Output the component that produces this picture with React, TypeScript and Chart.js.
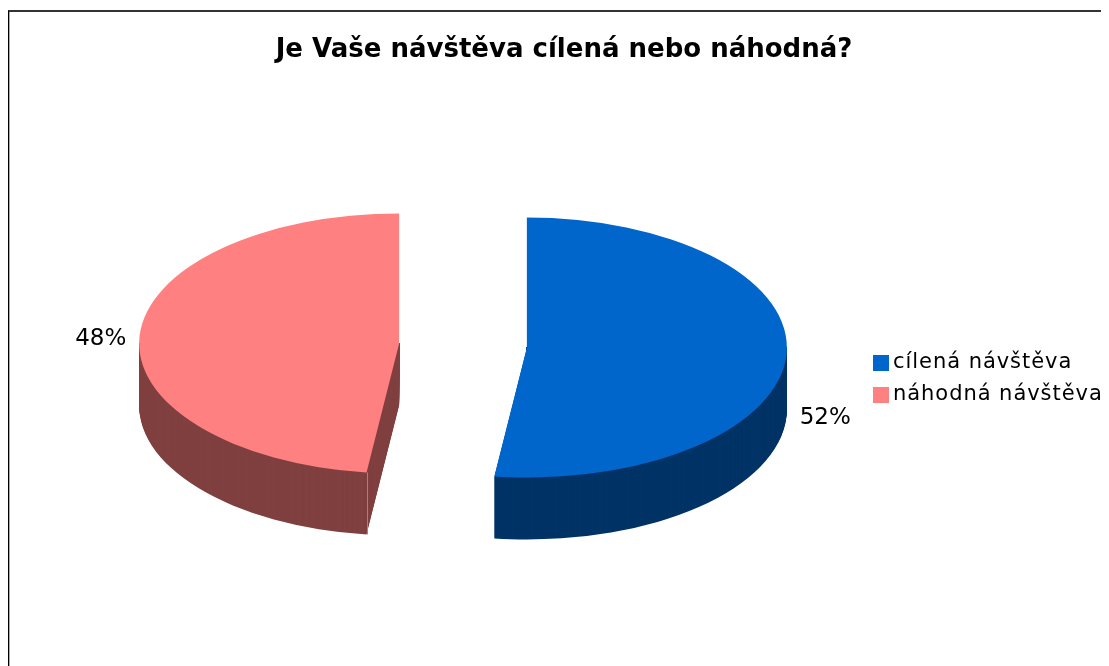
import React, { useEffect, useRef } from "react";
import { Chart, registerables } from "chart.js";

Chart.register(...registerables);

const categories = ["cílená návštěva", "náhodná návštěva"];
const values = [52, 48];
const colors = ["#0066CC", "#FF8080"];
const sideColors = ["#003366", "#804040"];
const titleText = "Je Vaše návštěva cílená nebo náhodná?";

const FONT = "'DejaVu Sans'";
const SQUASH = 0.5;
const DEPTH = 62;
const EXPLODE = 64;
const CENTER_X = 454;
const CENTER_Y = 333.5;
const LABEL_RX = 363;
const LABEL_RY = 270;

const pie3d = {
  id: "pie3d",
  beforeDatasetsDraw(chart: any) {
    const { ctx } = chart;
    const meta = chart.getDatasetMeta(0);
    const place = (arc: any, shift: number) => {
      const mid = (arc.startAngle + arc.endAngle) / 2;
      const ex = Math.cos(mid) * EXPLODE;
      const ey = Math.sin(mid) * EXPLODE * SQUASH;
      ctx.setTransform(1, 0, 0, SQUASH, CENTER_X - arc.x + ex, CENTER_Y + shift + ey - arc.y * SQUASH);
    };
    ctx.save();
    meta.data.forEach((arc: any, i: number) => {
      const real = arc.options;
      const mid = (arc.startAngle + arc.endAngle) / 2;
      const apexY = CENTER_Y + Math.sin(mid) * EXPLODE * SQUASH;
      arc.options = { ...real, backgroundColor: sideColors[i], borderColor: sideColors[i], borderWidth: 0 };
      ctx.save();
      ctx.setTransform(1, 0, 0, 1, 0, 0);
      ctx.beginPath();
      ctx.rect(0, apexY, chart.width, chart.height);
      ctx.clip();
      for (let d = DEPTH; d >= 1; d--) {
        place(arc, d);
        arc.draw(ctx);
      }
      ctx.restore();
      arc.options = real;
    });
    meta.data.forEach((arc: any) => {
      place(arc, 0);
      arc.draw(ctx);
    });
    // pale seam on the near corner of the second slice
    const pink = meta.data[1];
    const mid = (pink.startAngle + pink.endAngle) / 2;
    const sx = Math.round(CENTER_X + Math.cos(mid) * EXPLODE + Math.cos(pink.startAngle) * pink.outerRadius) + 0.5;
    const sy = CENTER_Y + (Math.sin(mid) * EXPLODE + Math.sin(pink.startAngle) * pink.outerRadius) * SQUASH;
    ctx.setTransform(1, 0, 0, 1, 0, 0);
    ctx.strokeStyle = "#A58080";
    ctx.lineWidth = 1;
    ctx.beginPath();
    ctx.moveTo(sx, sy);
    ctx.lineTo(sx, sy + DEPTH);
    ctx.stroke();
    ctx.restore();
  },
  beforeDatasetDraw() {
    return false;
  },
  afterDraw(chart: any) {
    const { ctx } = chart;
    const meta = chart.getDatasetMeta(0);
    ctx.save();
    ctx.fillStyle = "#000";
    ctx.font = `23px ${FONT}`;
    ctx.textAlign = "center";
    ctx.textBaseline = "middle";
    meta.data.forEach((arc: any, i: number) => {
      const mid = (arc.startAngle + arc.endAngle) / 2;
      const dx = Math.cos(mid);
      const dy = Math.sin(mid);
      const x = CENTER_X + LABEL_RX * dx;
      const y = CENTER_Y + LABEL_RY * dy * SQUASH + (dy > 0 ? DEPTH : 0) + 2;
      ctx.fillText(`${values[i]}%`, x, y);
    });
    // legend
    ctx.font = `21px ${FONT}`;
    ctx.letterSpacing = "0.95px";
    ctx.textAlign = "left";
    chart.data.labels.forEach((label: string, i: number) => {
      const top = 343 + i * 32;
      ctx.fillStyle = colors[i];
      ctx.fillRect(864, top, 16, 16);
      ctx.fillStyle = "#000";
      ctx.fillText(label, 884, top + 8);
    });
    ctx.restore();
  },
};

export default function App() {
  const ref = useRef<HTMLCanvasElement>(null);
  useEffect(() => {
    document.body.style.overflow = "hidden";
    const chart = new Chart(ref.current!, {
      type: "pie",
      data: {
        labels: categories,
        datasets: [
          {
            data: values,
            backgroundColor: colors,
            borderWidth: 0,
            radius: 260,
            clip: false,
          } as any,
        ],
      },
      plugins: [pie3d],
      options: {
        animation: false,
        responsive: false,
        plugins: {
          tooltip: { enabled: false },
          legend: { display: false },
          title: {
            display: true,
            text: titleText,
            color: "#000",
            font: { family: FONT, size: 26, weight: "bold" },
            padding: { top: 23, bottom: 10 },
          },
        },
      },
    } as any);
    return () => chart.destroy();
  }, []);
  return (
    <div
      style={{
        width: 1101,
        height: 656,
        marginTop: 2,
        boxSizing: "border-box",
        overflow: "hidden",
        borderLeft: "1px solid #000",
        borderTop: "2px solid #333",
        boxShadow: "inset 1px 0 0 #AAA",
      }}
    >
      <canvas ref={ref} width={1110} height={654} style={{ display: "block" }} />
    </div>
  );
}
